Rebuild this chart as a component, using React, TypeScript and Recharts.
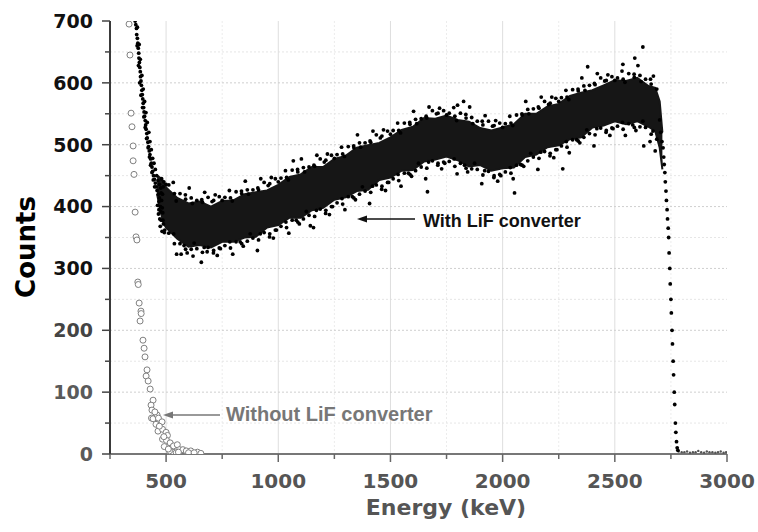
import { Area, CartesianGrid, ComposedChart, Scatter, XAxis, YAxis } from "recharts";

// axis ticks (majors get labels, the rest are minor ticks)
const xTicks = [250, 500, 750, 1000, 1250, 1500, 1750, 2000, 2250, 2500, 2750, 3000];
const yTicks = [0, 50, 100, 150, 200, 250, 300, 350, 400, 450, 500, 550, 600, 650, 700];
const xMajors = [500, 1000, 1500, 2000, 2500];
const xMinors = [750, 1250, 1750, 2250, 2750];
const yMajors = [100, 200, 300, 400, 500, 600];
const yMinors = [50, 150, 250, 350, 450, 550, 650];

// dense core of the "with LiF" spectrum: energy, lower and upper edge of the band
const bandEnergy = [460, 475, 490, 500, 550, 600, 650, 700, 750, 800, 850, 900, 950, 1000, 1050, 1100, 1150, 1200, 1250, 1300, 1350, 1400, 1450, 1500, 1550, 1600, 1650, 1700, 1750, 1800, 1850, 1900, 1950, 2000, 2050, 2100, 2150, 2200, 2250, 2300, 2350, 2400, 2450, 2500, 2550, 2600, 2650, 2680, 2700, 2712];
const bandLow = [420, 392, 372, 366, 348, 335, 338, 334, 343, 343, 350, 351, 366, 370, 382, 382, 394, 398, 411, 415, 425, 427, 443, 447, 458, 459, 473, 476, 481, 475, 465, 467, 458, 462, 463, 480, 484, 496, 499, 509, 512, 528, 531, 538, 533, 538, 529, 522, 495, 460];
const bandHigh = [450, 446, 440, 431, 414, 405, 408, 400, 409, 410, 420, 423, 426, 435, 448, 452, 464, 464, 477, 482, 495, 499, 503, 512, 524, 529, 543, 542, 547, 540, 537, 527, 523, 528, 533, 550, 550, 562, 566, 579, 584, 588, 596, 604, 603, 608, 595, 592, 570, 520];

// individual counts, with LiF converter (steep start, scattered edges, fall-off)
const withLiF: [number, number][] = [
  [362, 700], [365, 694], [368, 688], [369, 678], [372, 672], [374, 664], [376, 656], [378, 648], [379, 640], [381, 633],
  [383, 625], [385, 618], [386, 610], [388, 603], [390, 596], [392, 588], [394, 581], [396, 574], [398, 567], [400, 560],
  [402, 553], [404, 546], [407, 539], [409, 532], [411, 525], [414, 518], [416, 511], [419, 504], [422, 497], [425, 490],
  [428, 484], [431, 477], [434, 470], [437, 464], [440, 457], [444, 450], [448, 444], [452, 438], [456, 432], [460, 426],
  [465, 420], [470, 414], [372, 690], [380, 662], [385, 638], [392, 612], [398, 590], [404, 570], [410, 552], [416, 536],
  [423, 520], [428, 505], [434, 492], [440, 478], [446, 470], [452, 460], [458, 450], [464, 442], [470, 436], [476, 430],
  [480, 445], [475, 400], [468, 395], [462, 402], [485, 390], [478, 378], [488, 372], [494, 362], [482, 360], [472, 380],
  [476, 392], [480, 410], [484, 420], [487, 432], [474, 368], [490, 440], [486, 378], [478, 422], [468, 408], [466, 388],
  [483, 398], [382, 600], [388, 580], [395, 560], [401, 545], [407, 528], [413, 510], [420, 495], [426, 480], [431, 467],
  [437, 455], [443, 443], [449, 432], [377, 628], [371, 660],
  [500, 436], [492, 358], [532, 439], [534, 356], [545, 409], [547, 323], [586, 419], [580, 337], [603, 430], [594, 325],
  [617, 405], [625, 341], [659, 411], [657, 310], [672, 423], [670, 334], [705, 408], [711, 325], [719, 419], [728, 321],
  [750, 410], [742, 332], [782, 426], [784, 343], [795, 409], [797, 323], [836, 425], [830, 343], [853, 441], [844, 336],
  [867, 420], [875, 356], [909, 430], [907, 329], [922, 445], [920, 356], [955, 434], [961, 351], [969, 447], [978, 349],
  [1000, 440], [992, 362], [1032, 458], [1034, 375], [1045, 443], [1047, 357], [1086, 460], [1080, 378], [1103, 477], [1094, 372],
  [1117, 456], [1125, 392], [1159, 467], [1157, 366], [1172, 483], [1170, 394], [1205, 472], [1211, 389], [1219, 485], [1228, 387],
  [1250, 478], [1242, 400], [1282, 496], [1284, 413], [1295, 481], [1297, 395], [1336, 498], [1330, 416], [1353, 516], [1344, 411],
  [1367, 496], [1375, 432], [1409, 506], [1407, 405], [1422, 522], [1420, 433], [1455, 511], [1461, 428], [1469, 524], [1478, 426],
  [1500, 517], [1492, 439], [1532, 535], [1534, 452], [1545, 519], [1547, 433], [1586, 536], [1580, 454], [1603, 554], [1594, 449],
  [1617, 534], [1625, 470], [1659, 546], [1657, 445], [1672, 561], [1670, 472], [1705, 550], [1711, 467], [1719, 559], [1728, 461],
  [1750, 548], [1742, 470], [1782, 560], [1784, 477], [1795, 539], [1797, 453], [1836, 549], [1830, 467], [1853, 561], [1844, 456],
  [1867, 534], [1875, 470], [1909, 538], [1907, 437], [1922, 547], [1920, 458], [1955, 530], [1961, 447], [1969, 539], [1978, 441],
  [2000, 528], [1992, 450], [2032, 546], [2034, 463], [2045, 531], [2047, 445], [2086, 550], [2080, 468], [2103, 570], [2094, 465],
  [2117, 550], [2125, 486], [2159, 561], [2157, 460], [2172, 577], [2170, 488], [2205, 565], [2211, 482], [2219, 577], [2228, 479],
  [2250, 570], [2242, 492], [2282, 588], [2284, 505], [2295, 573], [2297, 487], [2336, 590], [2330, 508], [2353, 608], [2344, 503],
  [2367, 588], [2375, 524], [2409, 599], [2407, 498], [2422, 615], [2420, 526], [2455, 603], [2461, 520], [2469, 613], [2478, 515],
  [2500, 604], [2492, 526], [2532, 619], [2534, 536], [2545, 601], [2547, 515], [2586, 614], [2580, 532], [2603, 628], [2594, 523],
  [2617, 602], [2625, 538], [2659, 606], [2657, 505], [2672, 611], [2670, 522],
  [512, 435], [512, 357], [537, 421], [537, 340], [562, 421], [562, 340], [587, 412], [587, 331], [612, 414], [612, 331],
  [637, 410], [637, 332], [662, 407], [662, 326], [687, 415], [687, 334], [712, 410], [712, 329], [737, 416], [737, 333],
  [762, 415], [762, 337], [787, 414], [787, 333], [812, 424], [812, 343], [837, 421], [837, 340], [862, 427], [862, 344],
  [887, 427], [887, 349], [912, 427], [912, 346], [937, 439], [937, 358], [962, 437], [962, 356], [987, 445], [987, 362],
  [1012, 446], [1012, 368], [1037, 447], [1037, 366], [1062, 459], [1062, 378], [1087, 456], [1087, 375], [1112, 463], [1112, 380],
  [1137, 464], [1137, 386], [1162, 465], [1162, 384], [1187, 477], [1187, 396], [1212, 475], [1212, 394], [1237, 483], [1237, 400],
  [1262, 484], [1262, 406], [1287, 485], [1287, 404], [1312, 497], [1312, 416], [1337, 495], [1337, 414], [1362, 503], [1362, 420],
  [1387, 503], [1387, 425], [1412, 504], [1412, 423], [1437, 516], [1437, 435], [1462, 514], [1462, 433], [1487, 522], [1487, 439],
  [1512, 523], [1512, 445], [1537, 523], [1537, 442], [1562, 535], [1562, 454], [1587, 533], [1587, 452], [1612, 541], [1612, 458],
  [1637, 542], [1637, 464], [1662, 543], [1662, 462], [1687, 555], [1687, 474], [1712, 551], [1712, 470], [1737, 555], [1737, 472],
  [1762, 551], [1762, 473], [1787, 546], [1787, 465], [1812, 551], [1812, 470], [1837, 543], [1837, 462], [1862, 544], [1862, 461],
  [1887, 538], [1887, 460], [1912, 532], [1912, 451], [1937, 538], [1937, 457], [1962, 531], [1962, 450], [1987, 535], [1987, 452],
  [2012, 534], [2012, 456], [2037, 535], [2037, 454], [2062, 548], [2062, 467], [2087, 548], [2087, 467], [2112, 557], [2112, 474],
  [2137, 558], [2137, 480], [2162, 559], [2162, 478], [2187, 570], [2187, 489], [2212, 567], [2212, 486], [2237, 575], [2237, 492],
  [2262, 576], [2262, 498], [2287, 577], [2287, 496], [2312, 589], [2312, 508], [2337, 587], [2337, 506], [2362, 595], [2362, 512],
  [2387, 596], [2387, 518], [2412, 597], [2412, 516], [2437, 608], [2437, 527], [2462, 604], [2462, 523], [2487, 610], [2487, 527],
  [2512, 608], [2512, 530], [2537, 606], [2537, 525], [2562, 615], [2562, 534], [2587, 609], [2587, 528], [2612, 612], [2612, 529],
  [2637, 606], [2637, 528], [2662, 598], [2662, 517], [2687, 590], [2687, 509],
  [2625, 658], [2589, 640], [2379, 626], [2536, 630], [2053, 422], [2268, 461], [2629, 498], [2680, 490], [1143, 369], [1665, 424],
  [1799, 564], [1826, 570], [620, 320], [567, 323], [683, 327], [1067, 474],
  [2700, 540], [2705, 520], [2710, 505], [2715, 495], [2718, 480], [2720, 468], [2723, 455], [2725, 440], [2728, 425], [2730, 410],
  [2733, 395], [2735, 380], [2738, 365], [2740, 350], [2742, 325], [2745, 300], [2747, 275], [2750, 250], [2752, 228], [2755, 200],
  [2757, 178], [2760, 150], [2762, 128], [2765, 100], [2767, 80], [2770, 50], [2772, 35], [2775, 20], [2778, 10], [2781, 6],
];

// flat residual counts above the edge
const withTail: [number, number][] = [
  [2785, 4], [2798, 3], [2810, 3], [2822, 4], [2835, 2], [2848, 3], [2860, 3], [2872, 5], [2885, 3], [2898, 2],
  [2910, 4], [2922, 3], [2935, 3], [2948, 2], [2960, 3], [2972, 4], [2985, 2], [2996, 3],
];

// counts without LiF converter
const withoutLiF: [number, number][] = [
  [335, 695], [339, 645], [344, 551], [348, 529], [353, 498], [353, 474], [357, 452], [362, 391], [366, 351], [370, 346],
  [374, 278], [376, 274], [380, 244], [388, 231], [389, 227], [384, 215], [397, 184], [402, 171], [406, 157], [415, 136],
  [411, 126], [420, 118], [429, 105], [442, 87], [433, 79], [437, 71], [435, 58], [442, 57], [460, 63], [466, 58],
  [482, 52], [464, 37], [484, 40], [500, 35], [484, 24], [506, 30], [502, 22], [518, 18], [524, 10], [533, 13],
  [550, 15], [560, 7], [575, 7], [590, 5], [610, 5], [640, 3], [530, 3], [545, 2], [515, 5], [555, 3],
  [600, 2], [625, 2], [655, 1], [450, 68], [455, 48], [470, 45], [490, 28], [492, 12], [510, 8],
];

const bandData = bandEnergy.map((x, i) => ({ x, range: [bandLow[i], bandHigh[i]] }));
const toPoints = (list: [number, number][]) => list.map(([x, y]) => ({ x, y }));

const yLabelColor = (v: number) => {
  if (v >= 300) return "#111";
  if (v === 200) return "#444";
  return "#5a5a5a";
};

const XTick = (props: any) => {
  const { x, y, payload } = props;
  const v = payload.value;
  const major = v % 500 === 0;
  return (
    <g>
      <line x1={x} y1={y} x2={x} y2={y + (major ? 8 : 5)} stroke="#666" strokeWidth={1.5} />
      {major && (
        <text x={x} y={y + 34} textAnchor="middle" fontFamily="DejaVu Sans" fontWeight="bold" fontSize={20} fill="#555">
          {v}
        </text>
      )}
    </g>
  );
};

const YTick = (props: any) => {
  const { x, y, payload } = props;
  const v = payload.value;
  const major = v % 100 === 0;
  return (
    <g>
      <line x1={x - (major ? 8 : 5)} y1={y} x2={x} y2={y} stroke="#444" strokeWidth={1.5} />
      {major && (
        <text x={x - 17} y={y} dy="0.36em" textAnchor="end" fontFamily="DejaVu Sans" fontWeight="bold" fontSize={19} fill={yLabelColor(v)}>
          {v}
        </text>
      )}
    </g>
  );
};

const dot = (r: number, fill: string) => (p: any) => <circle cx={p.cx} cy={p.cy} r={r} fill={fill} />;
const ring = (p: any) => <circle cx={p.cx} cy={p.cy} r={3} fill="#fff" stroke="#808080" strokeWidth={1} />;

export default function App() {
  return (
    <div style={{ position: "absolute", left: 0, top: 0, width: 758, height: 532, background: "#fff" }}>
      <ComposedChart width={758} height={532} data={bandData} margin={{ top: 21, right: 31, bottom: 0, left: 0 }}>
        <CartesianGrid horizontal={false} verticalValues={xMinors} stroke="#ececec" strokeDasharray="2 2" />
        <CartesianGrid vertical={false} horizontalValues={yMinors} stroke="#e6e6e6" strokeDasharray="2 2" />
        <CartesianGrid horizontal={false} verticalValues={xMajors} stroke="#dedede" />
        <CartesianGrid vertical={false} horizontalValues={yMajors} stroke="#cfcfcf" strokeDasharray="2 2" />
        <XAxis
          dataKey="x"
          type="number"
          domain={[250, 3000]}
          ticks={xTicks}
          interval={0}
          tickSize={0}
          tickMargin={0}
          tick={<XTick />}
          height={78}
          allowDataOverflow
          axisLine={{ stroke: "#777", strokeWidth: 2 }}
        />
        <YAxis
          type="number"
          domain={[0, 700]}
          ticks={yTicks}
          interval={0}
          tickSize={0}
          tickMargin={0}
          tick={<YTick />}
          width={110}
          allowDataOverflow
          axisLine={{ stroke: "#3a3a3a", strokeWidth: 2 }}
        />
        <XAxis xAxisId="top" orientation="top" type="number" domain={[250, 3000]} height={0} tick={false} tickLine={false} axisLine={{ stroke: "#444", strokeWidth: 2 }} />
        <YAxis yAxisId="right" orientation="right" type="number" domain={[0, 700]} width={0} tick={false} tickLine={false} axisLine={{ stroke: "#555", strokeWidth: 2 }} />
        <Area dataKey="range" type="linear" fill="#161616" fillOpacity={1} stroke="#161616" strokeWidth={2} isAnimationActive={false} />
        <Scatter data={toPoints(withoutLiF)} dataKey="y" shape={ring} isAnimationActive={false} />
        <Scatter data={toPoints(withTail)} dataKey="y" shape={dot(1.2, "#555")} isAnimationActive={false} />
        <Scatter data={toPoints(withLiF)} dataKey="y" shape={dot(1.9, "#000")} isAnimationActive={false} />
      </ComposedChart>
      <svg width={758} height={532} style={{ position: "absolute", left: 0, top: 0, pointerEvents: "none" }}>
        <text x={35} y={247} transform="rotate(-90 35 247)" textAnchor="middle" fontFamily="DejaVu Sans" fontWeight="bold" fontSize={26} fill="#000">
          Counts
        </text>
        <text x={446} y={515} textAnchor="middle" fontFamily="DejaVu Sans" fontWeight="bold" fontSize={22} fill="#555">
          Energy (keV)
        </text>
        <line x1={364} y1={219} x2={415} y2={219} stroke="#111" strokeWidth={1.5} />
        <polygon points="357,219 367,215.5 367,222.5" fill="#111" />
        <text x={423} y={227} fontFamily="Liberation Sans, Arial" fontWeight="bold" fontSize={18} fill="#111">
          With LiF converter
        </text>
        <line x1={170} y1={415} x2={220} y2={415} stroke="#777" strokeWidth={1.5} />
        <polygon points="163,415 173,411.5 173,418.5" fill="#777" />
        <text x={226} y={421} fontFamily="Liberation Sans, Arial" fontWeight="bold" fontSize={20} fill="#777">
          Without LiF converter
        </text>
      </svg>
    </div>
  );
}
